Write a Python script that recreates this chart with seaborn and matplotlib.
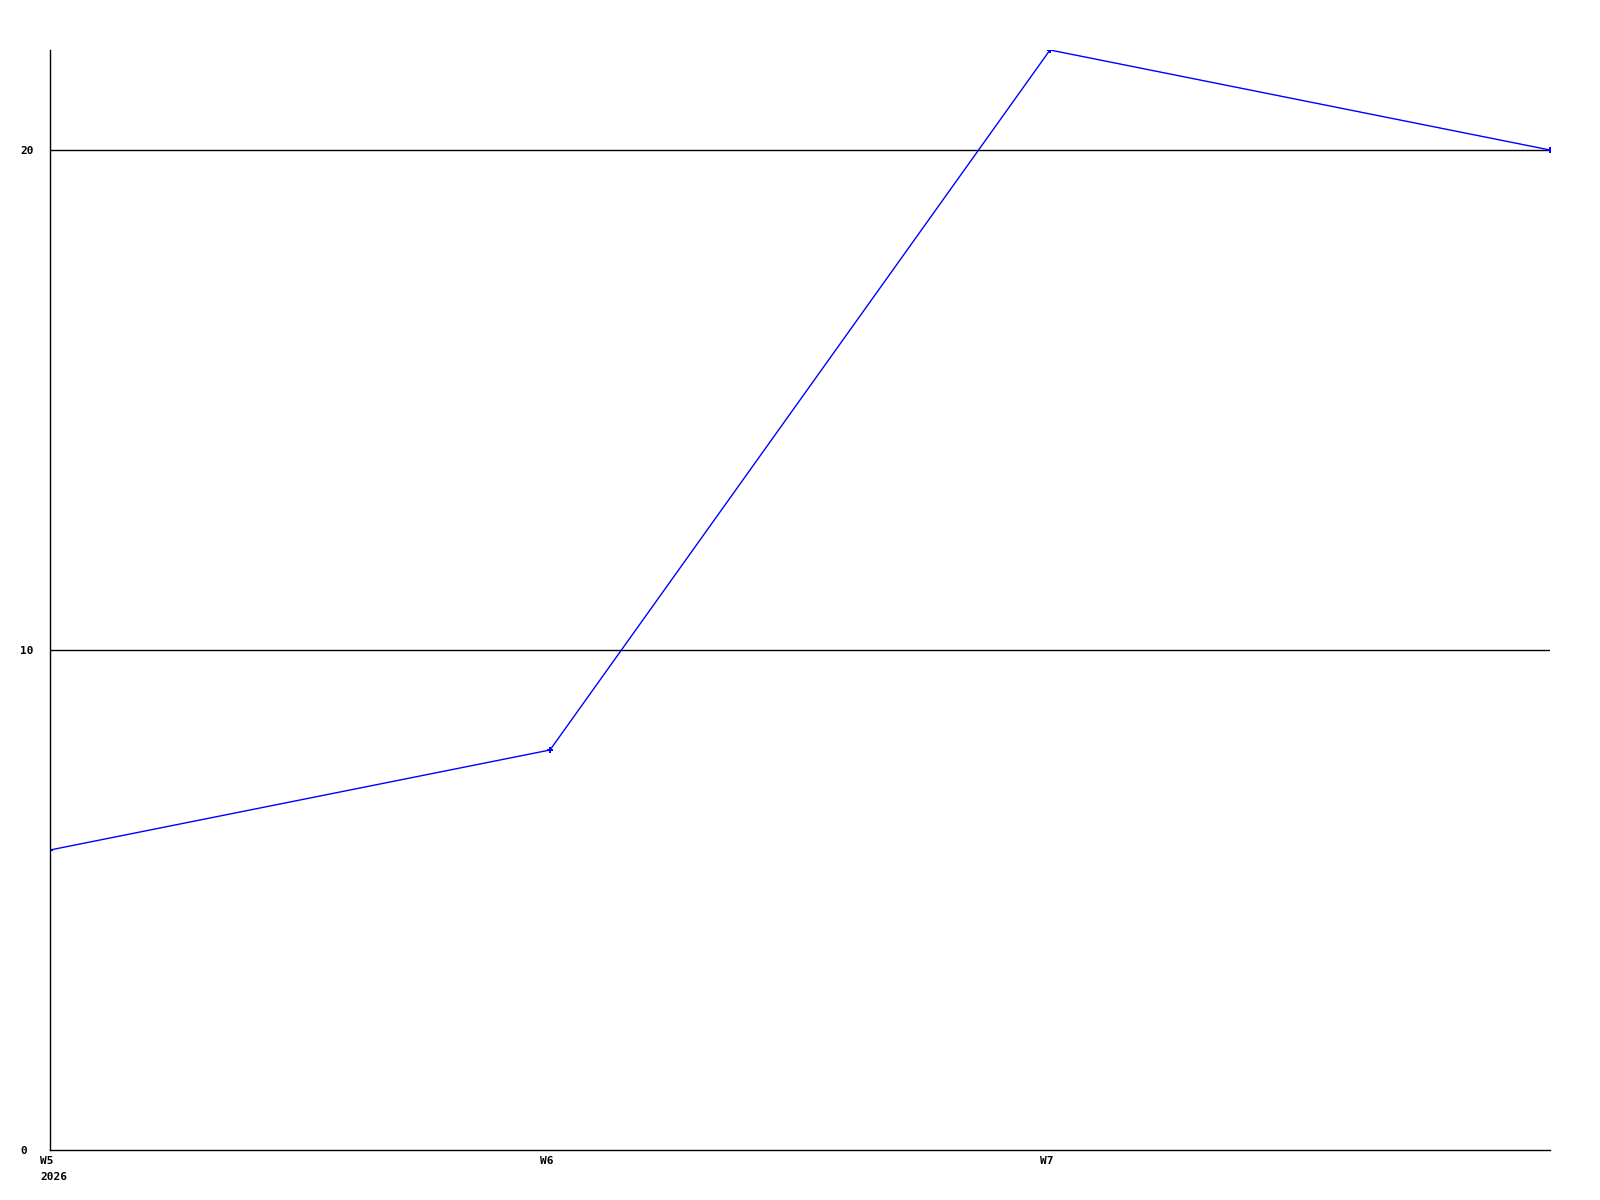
import matplotlib
matplotlib.use("Agg")
import matplotlib.pyplot as plt
import matplotlib.transforms as mtransforms
import seaborn as sns
import pandas as pd

weeks = ["W5", "W6", "W7", "W8"]
values = [6, 8, 22, 20]
tick_labels = ["W5\n2026", "W6", "W7", ""]
y_ticks = [0, 10, 20]

sns.set_theme(style="white")
plt.rcParams['font.family'] = ['DejaVu Sans Mono']

df = pd.DataFrame({"idx": range(len(weeks)), "week": weeks, "value": values})

fig = plt.figure(figsize=(16, 12), dpi=100)
ax = fig.add_axes([50/1600, 1 - 1150/1200, 1500/1600, 1100/1200])

sns.lineplot(data=df, x="idx", y="value", ax=ax, color="#0000ff", linewidth=1,
             marker="P", markersize=4, markeredgewidth=0)

ax.set_xlim(0, len(weeks) - 1)
ax.set_ylim(0, 22)
ax.set_xticks(list(range(len(weeks))))
ax.set_xticklabels(tick_labels, fontsize=8, fontweight="bold", ha="left", linespacing=1.75)
ax.set_yticks(y_ticks)
ax.set_yticklabels([str(v) for v in y_ticks], fontsize=8, fontweight="bold", ha="left")
ax.tick_params(axis="both", length=0, labelcolor="black")
ax.tick_params(axis="x", pad=4)
ax.tick_params(axis="y", pad=30 * 72 / 100)
offset = mtransforms.ScaledTranslation(-10/100, 0, fig.dpi_scale_trans)
for lbl in ax.get_xticklabels():
    lbl.set_transform(lbl.get_transform() + offset)

for v in y_ticks[1:]:
    ax.axhline(v, color="black", linewidth=1, zorder=1)

for s in ["top", "right"]:
    ax.spines[s].set_visible(False)
for s in ["left", "bottom"]:
    ax.spines[s].set_color("black")
    ax.spines[s].set_linewidth(1)

ax.set_xlabel("")
ax.set_ylabel("")
fig.savefig("out.png", dpi=100, facecolor="white")
